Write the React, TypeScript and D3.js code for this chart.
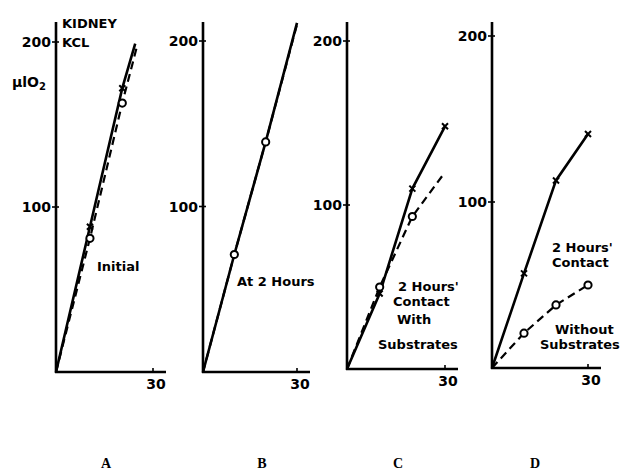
import React from 'react';
import * as d3 from 'd3';

// O2 uptake (µl) against time (minutes), kidney in KCl
const panelNames = ['A', 'B', 'C', 'D'];
const yTicks = [100, 200];
const xTicks = [30];

const solidA = [[0, 0], [10.5, 88], [20.5, 172], [24.5, 199]];
const dashA = [[0, 0], [10.5, 81], [20.5, 163], [25, 197]];
const solidB = [[0, 0], [10, 71], [20, 139], [30, 211]];
const dashB = [[0, 0], [10, 71], [20, 139], [30, 210]];
const solidC = [[0, 0], [10, 46], [20, 110], [30, 148]];
const dashC = [[0, 0], [10, 50], [20, 93], [30, 120]];
const solidD = [[0, 0], [10, 57], [20, 113], [30, 141]];
const dashD = [[0, 0], [10, 21], [20, 38], [30, 50]];

// which points carry a marker
const crossA = [1, 2];
const circleA = [1, 2];
const crossB: number[] = [];
const circleB = [1, 2];
const crossC = [1, 2, 3];
const circleC = [1, 2];
const crossD = [1, 2, 3];
const circleD = [1, 2, 3];

const notesA = ['Initial'];
const notesB = ['At 2 Hours'];
const notesC = ["2 Hours'", 'Contact', 'With', 'Substrates'];
const notesD = ["2 Hours'", 'Contact', 'Without', 'Substrates'];

// layout (pixels) of each panel; the scan is a bit skewed so each has its own
const frames = [
  { x0: 56, x30: 153, y0: 372, y200: 42, letterX: 106, notes: [[97, 271]] },
  { x0: 203, x30: 297, y0: 372, y200: 41, letterX: 262, notes: [[237, 286]] },
  { x0: 347, x30: 445, y0: 369, y200: 41, letterX: 398, notes: [[398, 291], [393, 306], [397, 324], [378, 349]] },
  { x0: 492, x30: 588, y0: 368, y200: 36, letterX: 535, notes: [[552, 252], [552, 267], [555, 334], [540, 349]] },
];

const panels = [
  { solid: solidA, dash: dashA, cross: crossA, circle: circleA, notes: notesA },
  { solid: solidB, dash: dashB, cross: crossB, circle: circleB, notes: notesB },
  { solid: solidC, dash: dashC, cross: crossC, circle: circleC, notes: notesC },
  { solid: solidD, dash: dashD, cross: crossD, circle: circleD, notes: notesD },
];

const font = '"DejaVu Sans", sans-serif';

const Panel = ({ p, f, name, first }: any) => {
  const x = d3.scaleLinear().domain([0, 30]).range([f.x0, f.x30]);
  const y = d3.scaleLinear().domain([0, 200]).range([f.y0, f.y200]);
  const line = d3.line<number[]>().x(d => x(d[0])).y(d => y(d[1]));
  const xEnd = x(30) + 13;
  const yTop = 22;
  return (
    <g>
      {/* axes */}
      <line x1={f.x0} x2={f.x0} y1={f.y0 + 1} y2={yTop} stroke="#000" strokeWidth={2.6} />
      <line x1={f.x0 - 1} x2={xEnd} y1={f.y0} y2={f.y0} stroke="#000" strokeWidth={2.6} />
      {yTicks.map(t => (
        <g key={t}>
          <line x1={f.x0 - 4} x2={f.x0 + 3} y1={y(t)} y2={y(t)} stroke="#000" strokeWidth={1.6} />
          <text x={f.x0 - 5} y={y(t) + 5} textAnchor="end" fontFamily={font} fontWeight="bold" fontSize={14}>{t}</text>
        </g>
      ))}
      {xTicks.map(t => (
        <g key={t}>
          <line x1={x(t)} x2={x(t)} y1={f.y0} y2={f.y0 - 4} stroke="#000" strokeWidth={1.6} />
          <text x={x(t) + 3} y={f.y0 + 17} textAnchor="middle" fontFamily={font} fontWeight="bold" fontSize={14}>{t}</text>
        </g>
      ))}

      {/* curves */}
      <path d={line(p.solid) || ''} fill="none" stroke="#000" strokeWidth={2.6} />
      <path d={line(p.dash) || ''} fill="none" stroke="#000" strokeWidth={2.2} strokeDasharray="8,5" />

      {p.cross.map((i: number) => {
        const cx = x(p.solid[i][0]);
        const cy = y(p.solid[i][1]);
        return (
          <path key={'x' + i} d={`M${cx - 3},${cy - 3}L${cx + 3},${cy + 3}M${cx - 3},${cy + 3}L${cx + 3},${cy - 3}`}
            stroke="#000" strokeWidth={2} />
        );
      })}
      {p.circle.map((i: number) => (
        <circle key={'o' + i} cx={x(p.dash[i][0])} cy={y(p.dash[i][1])} r={3.6}
          fill="#fff" stroke="#000" strokeWidth={2} />
      ))}

      {p.notes.map((s: string, i: number) => (
        <text key={s} x={f.notes[i][0]} y={f.notes[i][1]} fontFamily={font} fontWeight="bold" fontSize={13}>{s}</text>
      ))}

      <text x={f.letterX} y={468} textAnchor="middle" fontFamily='"Liberation Serif", serif'
        fontWeight="bold" fontSize={14}>{name}</text>

      {first && (
        <g fontFamily={font} fontWeight="bold" fontSize={13}>
          <text x={62} y={28}>KIDNEY</text>
          <text x={62} y={47}>KCL</text>
          <text x={12} y={87} fontSize={14}>μlO<tspan fontSize={10} dy={3}>2</tspan></text>
        </g>
      )}
    </g>
  );
};

export default function App() {
  return (
    <svg width={624} height={475} style={{ position: 'absolute', left: 0, top: 0, background: '#fff' }}>
      <rect width={624} height={475} fill="#fff" />
      {panels.map((p, i) => (
        <Panel key={panelNames[i]} p={p} f={frames[i]} name={panelNames[i]} first={i === 0} />
      ))}
    </svg>
  );
}
